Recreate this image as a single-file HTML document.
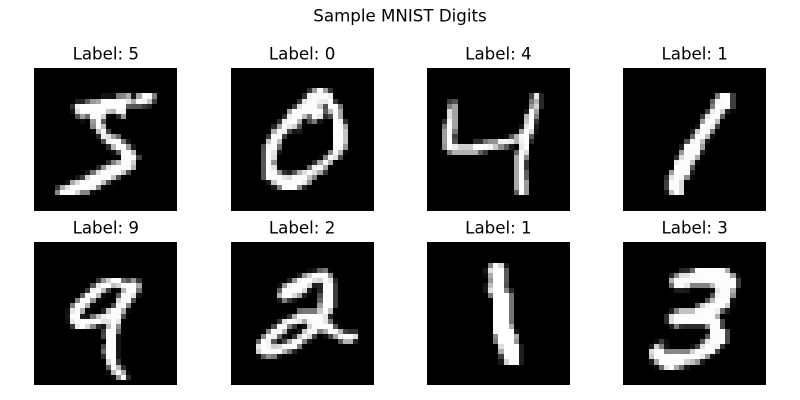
<!DOCTYPE html>
<html lang="en">
<head>
<meta charset="utf-8">
<title>Sample MNIST Digits</title>
<style>
html,body{margin:0;padding:0;background:#fff;width:800px;height:400px;overflow:hidden}
svg{display:block}
text{font-family:"DejaVu Sans","Liberation Sans",sans-serif;fill:#000;font-size:16.67px}
</style>
</head>
<body>
<svg id="chart" width="800" height="400" viewBox="0 0 800 400" xmlns="http://www.w3.org/2000/svg">
<rect x="0" y="0" width="800" height="400" fill="#fff"/>
<text x="400" y="21.5" text-anchor="middle">Sample MNIST Digits</text>
</svg>
<script>
// Each row entry: row index, first column index, then 0-255 pixel values from that column on.
const digitLabels = [5, 0, 4, 1, 9, 2, 1, 3];
const digitA = [
[5,12,3,18,18,18,126,136,175,26,166,255,247,127],
[6,8,30,36,94,154,170,253,253,253,253,253,225,172,253,242,195,64],
[7,7,49,238,253,253,253,253,253,253,253,253,251,93,82,82,56,39],
[8,7,18,219,253,253,253,253,253,198,182,247,241],
[9,8,80,156,107,253,253,205,11,0,43,154],
[10,9,14,1,154,253,90],
[11,11,139,253,190,2],
[12,11,11,190,253,70],
[13,12,35,241,225,160,108,1],
[14,13,81,240,253,253,119,25],
[15,14,45,186,253,253,150,27],
[16,15,16,93,252,253,187],
[17,17,249,253,249,64],
[18,14,46,130,183,253,253,207,2],
[19,12,39,148,229,253,253,253,250,182],
[20,10,24,114,221,253,253,253,253,201,78],
[21,8,23,66,213,253,253,253,253,198,81,2],
[22,6,18,171,219,253,253,253,253,195,80,9],
[23,4,55,172,226,253,253,253,253,244,133,11],
[24,4,136,253,253,253,212,135,132,16]
];
const digitB = [
[4,15,51,159,253,159,50],
[5,14,48,238,252,252,252,237],
[6,13,54,227,253,252,239,233,252,57,6],
[7,11,10,60,224,252,253,252,202,84,252,253,122],
[8,11,163,252,252,252,253,252,252,96,189,253,167],
[9,10,51,238,253,253,190,114,253,228,47,79,255,168],
[10,9,48,238,252,252,179,12,75,121,21,0,0,253,243,50],
[11,8,38,165,253,233,208,84],[11,20,253,252,165],
[12,7,7,178,252,240,71,19,28],[12,20,253,252,195],
[13,7,57,252,252,63],[13,20,253,252,195],
[14,7,198,253,190],[14,20,255,253,196],
[15,6,76,246,252,112],[15,20,253,252,148],
[16,6,85,252,230,25],[16,18,7,135,253,186,12],
[17,6,85,252,223],[17,17,7,131,252,225,71],
[18,6,85,252,145],[18,16,48,165,252,173],
[19,6,86,253,225],[19,15,114,238,253,162],
[20,6,85,252,249,146,48,29,85,178,225,253,223,167,56],
[21,6,85,252,252,252,229,215,252,252,252,196,130],
[22,7,28,199,252,252,253,252,252,233,145],
[23,8,25,128,252,253,252,141,37]
];
const digitC = [
[5,20,67,232,39],
[6,4,62,81],[6,20,120,180,39],
[7,4,126,163],[7,20,153,210,40],
[8,4,220,163],[8,19,27,254,162],
[9,4,222,163],[9,19,183,254,125],
[10,3,46,245,163],[10,19,198,254,56],
[11,3,120,254,163],[11,18,23,231,254,29],
[12,3,159,254,120],[12,18,163,254,216,16],
[13,3,159,254,67],[13,15,14,86,178,248,254,91],
[14,3,159,254,85,0,0,0,47,49,116,144,150,241,243,234,179,241,252,40],
[15,3,150,253,237,207,207,207,253,254,250,240,198,143,91,28,5,233,250],
[16,4,119,177,177,177,177,177,98,56],[16,17,102,254,220],
[17,17,169,254,137],
[18,17,169,254,57],
[19,17,169,254,57],
[20,17,169,255,94],
[21,17,169,254,96],
[22,17,169,254,153],
[23,17,169,255,153],
[24,17,96,254,153]
];
const digitD = [
[5,18,124,253,255,63],
[6,17,96,244,251,253,62],
[7,17,127,251,251,253,62],
[8,16,68,236,251,211,31,8],
[9,15,60,228,251,251,94],
[10,15,155,253,253,189],
[11,14,20,253,251,235,66],
[12,13,32,205,253,251,126],
[13,13,104,251,253,184,15],
[14,12,80,240,251,193,23],
[15,11,32,253,253,253,159],
[16,11,151,251,251,251,39],
[17,10,48,221,251,251,172],
[18,10,234,251,251,196,12],
[19,10,253,251,251,89],
[20,9,159,255,253,253,31],
[21,8,48,228,253,247,140,8],
[22,8,64,251,253,220],
[23,8,64,251,253,220],
[24,8,24,193,253,220]
];
const digitE = [
[7,12,55,148,210,253,253,113,87,148,55],
[8,11,87,232,252,253,189,210,252,252,253,168],
[9,9,4,57,242,252,190,65,5,12,182,252,253,116],
[10,9,96,252,252,183,14,0,0,92,252,252,225,21],
[11,8,132,253,252,146,14,0,0,0,215,252,252,79],
[12,7,126,253,247,176,9,0,0,8,78,245,253,129],
[13,6,16,232,252,176,0,0,0,36,201,252,252,169,11],
[14,6,22,252,252,30,22,119,197,241,253,252,251,77],
[15,6,16,231,252,253,252,252,252,226,227,252,231],
[16,7,55,235,253,217,138,42,24,192,252,143],
[17,13,62,255,253,109],
[18,13,71,253,252,21],
[19,14,253,252,21],
[20,13,71,253,252,21],
[21,13,106,253,252,21],
[22,13,45,255,253,21],
[23,14,218,252,56],
[24,14,96,252,189,42],
[25,14,14,184,252,170,11],
[26,15,14,147,252,42]
];
const digitF = [
[5,15,13,25,100,122,7],
[6,13,33,151,208,252,252,252,146],
[7,11,40,152,244,252,253,224,211,252,232,40],
[8,9,15,152,239,252,252,252,216,31,37,252,252,60],
[9,9,96,252,252,252,252,217,29,0,37,252,252,60],
[10,9,181,252,252,220,167,30,0,0,77,252,252,60],
[11,9,26,128,58,22,0,0,0,0,100,252,252,60],
[12,17,157,252,252,60],
[13,13,110,121,122,121,202,252,194,3],
[14,10,10,53,179,253,253,255,253,253,228,35],
[15,8,5,54,227,252,243,228,170,242,252,252,231,117,6],
[16,7,6,78,252,252,125,59,0,18,208,252,252,252,252,87,7],
[17,6,5,135,252,252,180,16,0,21,203,253,247,129,173,252,252,184,66,49,49],
[18,5,3,136,252,241,106,17,0,53,200,252,216,65,0,14,72,163,241,252,252,223],
[19,5,105,252,242,88,18,73,170,244,252,126,29,0,0,0,0,0,89,180,180,37],
[20,5,231,252,245,205,216,252,252,252,124,3],
[21,5,207,252,252,252,252,178,116,36,4],
[22,5,13,93,143,121,23,6]
];
const digitG = [
[4,12,130,254,215,30],
[5,11,25,225,254,254,90],
[6,11,12,170,254,254,90],
[7,12,150,254,254,90],
[8,11,20,190,254,254,80],
[9,11,25,225,254,254,130,40],
[10,12,120,254,254,254,115],
[11,13,254,254,254,115],
[12,13,254,254,254,115],
[13,13,254,254,254,115],
[14,13,254,254,254,115],
[15,13,254,254,254,115],
[16,13,254,254,254,170],
[17,13,250,254,254,254,25],
[18,13,140,254,254,254,170],
[19,13,120,254,254,254,150],
[20,14,220,254,254,254,30],
[21,14,170,254,254,254,30],
[22,14,60,250,254,254,30],
[23,14,25,210,254,254,30]
];
const digitH = [
[5,11,38,43,105,255,253,253,253,253,253,174,6],
[6,9,43,139,224,226,252,253,252,252,252,252,252,252,158,14],
[7,9,178,252,252,252,252,253,252,252,252,252,252,252,252,59],
[8,9,109,252,252,230,132,133,132,132,189,252,252,252,252,59],
[9,9,4,29,29,24,0,0,0,0,14,226,252,252,172,7],
[10,17,85,243,252,252,144],
[11,16,88,189,252,252,252,14],
[12,14,91,212,247,252,252,252,204,9],
[13,9,32,125,193,193,193,253,252,252,252,238,102,28],
[14,8,45,222,252,252,252,252,253,252,252,252,177],
[15,8,45,223,253,253,253,253,255,253,253,253,253,74],
[16,9,31,123,52,44,44,44,44,143,252,252,74],
[17,16,15,252,252,252,74],
[18,16,89,252,252,252,74],
[19,6,12,60,15],[19,15,90,230,252,252,252,74],
[20,5,30,210,130,20],[20,13,20,70,225,253,250,240,50],
[21,5,220,253,253,130,135,135,135,135,210,253,253,253,252,70],
[22,5,200,253,253,253,253,253,253,253,253,253,235,150,15],
[23,5,30,170,253,253,253,253,253,210,190,150,30],
[24,6,10,110,230,255,170,110,25]
];
const digitPixels = [digitA, digitB, digitC, digitD, digitE, digitF, digitG, digitH];
const gridSize = 28;

const SVG_NS = 'http://www.w3.org/2000/svg';
const chart = document.getElementById('chart');
const panelW = 143;
const panelH = 142.7;
function panelLeft(i) { return 34.3 + (i % 4) * 196.3; }
function panelTop(i) { return 68 + Math.floor(i / 4) * 174.2; }
function xAxis(i, col) { return Math.round(panelLeft(i) + col * panelW / gridSize); }
function yAxis(i, row) { return Math.round(panelTop(i) + row * panelH / gridSize); }
function grayScale(v, maxV) {
  const g = Math.round(Math.max(0, v) / maxV * 255);
  return 'rgb(' + g + ',' + g + ',' + g + ')';
}
function toMatrix(entries) {
  const m = [];
  for (let r = 0; r < gridSize; r++) m.push(new Array(gridSize).fill(0));
  entries.forEach(function (e) {
    for (let k = 2; k < e.length; k++) {
      if (e[0] < gridSize && e[1] + k - 2 < gridSize) m[e[0]][e[1] + k - 2] = e[k];
    }
  });
  return m;
}
digitLabels.forEach(function (label, i) {
  const matrix = toMatrix(digitPixels[i]);
  const maxV = Math.max.apply(null, matrix.map(function (r) { return Math.max.apply(null, r); })) || 1;
  const g = document.createElementNS(SVG_NS, 'g');
  
  
  g.setAttribute('shape-rendering', 'crispEdges');
  for (let r = 0; r < gridSize; r++) {
    for (let c = 0; c < gridSize; c++) {
      const cell = document.createElementNS(SVG_NS, 'rect');
      
      
      cell.setAttribute('x', xAxis(i, c));
      cell.setAttribute('y', yAxis(i, r));
      cell.setAttribute('width', xAxis(i, c + 1) - xAxis(i, c));
      cell.setAttribute('height', yAxis(i, r + 1) - yAxis(i, r));
      cell.setAttribute('fill', grayScale(matrix[r][c], maxV));
      g.appendChild(cell);
    }
  }
  chart.appendChild(g);
  const title = document.createElementNS(SVG_NS, 'text');
  
  
  title.setAttribute('x', panelLeft(i) + panelW / 2);
  title.setAttribute('y', panelTop(i) - 8.5);
  title.setAttribute('text-anchor', 'middle');
  title.textContent = 'Label: ' + label;
  chart.appendChild(title);
});
</script>
</body>
</html>
